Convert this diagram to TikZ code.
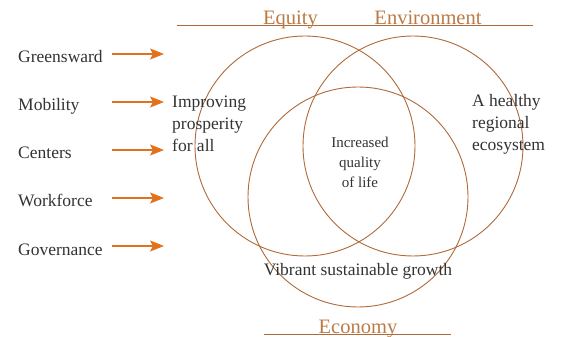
\documentclass[tikz,border=0pt]{standalone}
\usepackage{fontspec}
\setmainfont{Liberation Serif}
\usetikzlibrary{arrows.meta}
\definecolor{circ}{HTML}{B06A3A}
\definecolor{head}{HTML}{BB7A45}
\definecolor{arr}{HTML}{E2701F}
\definecolor{txt}{HTML}{333333}
\tikzset{
  ring/.style={draw=circ, line width=0.9pt},
  rule/.style={draw=circ, line width=0.9pt},
  headlbl/.style={text=head, font=\fontsize{20.5}{24}\selectfont, anchor=base, inner sep=0pt},
  side/.style={text=txt, font=\fontsize{17.5}{22}\selectfont, anchor=base west, inner sep=0pt},
  goal/.style={text=txt, font=\fontsize{17.5}{22}\selectfont, anchor=base west, inner sep=0pt, align=left},
  small/.style={text=txt, font=\fontsize{15}{20}\selectfont, anchor=base, inner sep=0pt, align=center},
  orr/.style={draw=arr, line width=1.1pt, -{Stealth[length=14pt,width=11pt,inset=3pt]}}
}
\begin{document}
\begin{tikzpicture}[x=1pt,y=-1pt]
\useasboundingbox (0,0) rectangle (566,337);
% circles
\node[ring, circle, minimum size=220pt, inner sep=0pt] (eq) at (305,146) {};
\node[ring, circle, minimum size=220pt, inner sep=0pt] (en) at (413,146) {};
\node[ring, circle, minimum size=220pt, inner sep=0pt] (ec) at (358,197) {};
% header rules
\coordinate (t1) at (177,25); \coordinate (t2) at (533,25);
\draw[rule] (t1) -- (t2);
\coordinate (b1) at (264,334); \coordinate (b2) at (451,334);
\draw[rule] (b1) -- (b2);
\node[headlbl] (equity) at (290.5,25) {Equity};
\node[headlbl] (environment) at (428,25) {Environment};
\node[headlbl] (economy) at (358,333) {Economy};
% left labels
\node[side] (gr) at (18,63) {Greensward};
\node[side] (mo) at (18,111) {Mobility};
\node[side] (ce) at (18,159) {Centers};
\node[side] (wo) at (18,207) {Workforce};
\node[side] (go) at (18,255) {Governance};
\foreach \n/\y in {gr/54,mo/102,ce/150,wo/198,go/246}{
  \coordinate (\n s) at (112,\y);
  \coordinate (\n e) at (164,\y);
  \draw[orr] (\n s) -- (\n e);
}
% region labels (base anchor = last line baseline)
\node[goal] (imp) at (172,152) {Improving\\prosperity\\for all};
\node[goal] (hea) at (472,151) {A healthy\\regional\\ecosystem};
\node[small] (iql) at (360,187) {Increased\\quality\\of life};
\node[side, anchor=base] (vib) at (358,275) {Vibrant sustainable growth};
\end{tikzpicture}
\end{document}
